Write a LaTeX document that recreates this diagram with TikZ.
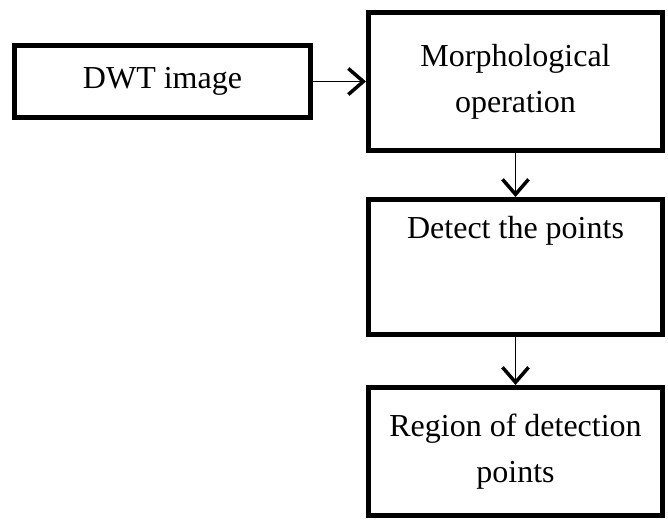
\documentclass[tikz,border=0pt]{standalone}
\usepackage{fontspec}
\setmainfont{Liberation Serif}
\usetikzlibrary{arrows.meta, positioning}

\begin{document}
\begin{tikzpicture}[
    box/.style={draw, line width=5pt, minimum width=294pt, align=center, inner sep=0pt,
                font=\fontsize{32}{46}\selectfont},
    arrow/.style={-{Straight Barb[length=15pt, width=26pt, line width=3.5pt]}, line width=1.5pt},
    node distance=44pt and 53pt
]
\useasboundingbox (0,0) rectangle (668pt,-520pt);

% first block on the left
\node[box, minimum width=296pt, minimum height=72pt] (dwt) at (162.5pt,-81.5pt) {DWT image};

% column of blocks on the right
\node[box, minimum height=138pt, right=of dwt] (morph) {Morphological\\operation};
\node[box, minimum height=135pt, below=of morph] (detect) {};
\node[below=16pt of detect.north, font=\fontsize{32}{46}\selectfont] (detecttxt) {Detect the points};
\node[box, minimum height=128pt, below=48pt of detect] (region) {Region of detection\\points};

% Arrows
\draw[arrow] (dwt) -- (morph);
\draw[arrow] (morph) -- (detect);
\draw[arrow] (detect) -- (region);

\end{tikzpicture}
\end{document}
